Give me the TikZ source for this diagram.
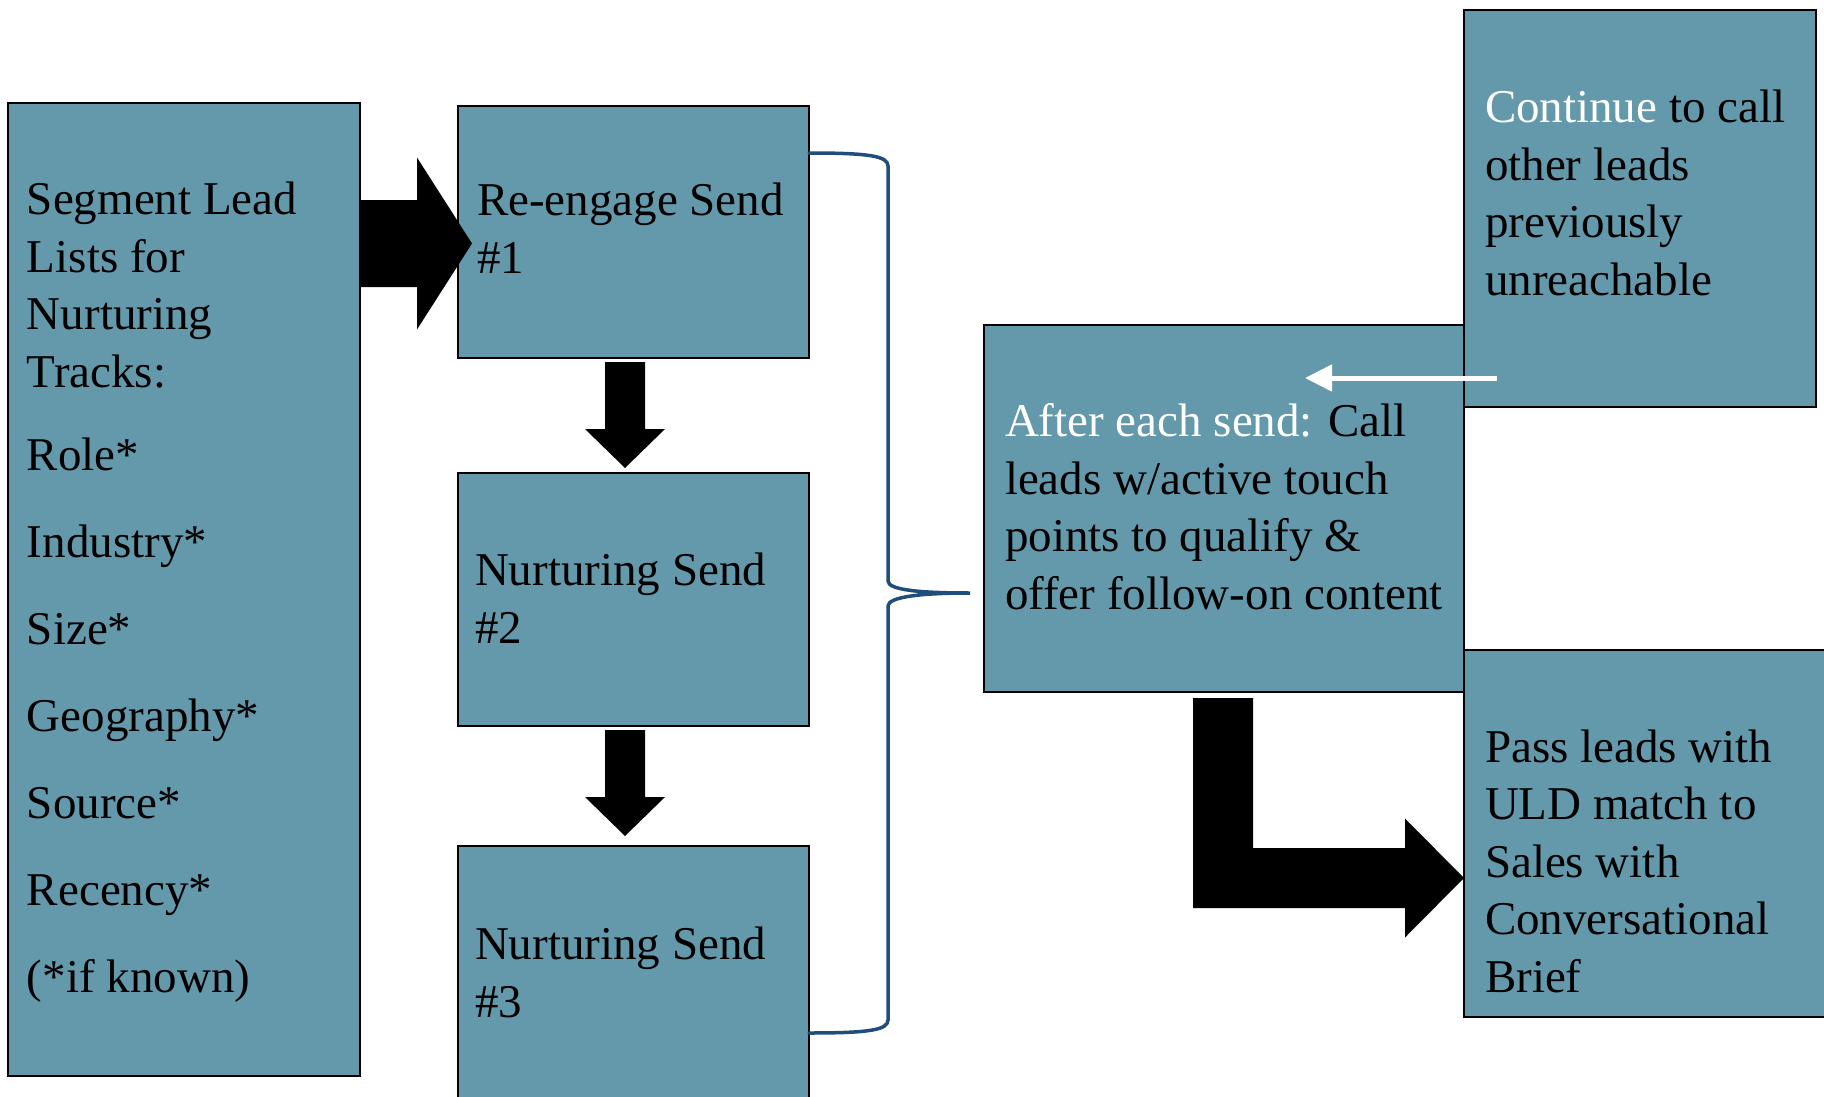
\documentclass[tikz,border=0pt]{standalone}
\usepackage{fontspec}
\setmainfont{Liberation Serif}
\usetikzlibrary{arrows.meta,calc}
\definecolor{boxfill}{RGB}{99,153,171}
\definecolor{bracecol}{RGB}{31,78,125}
\tikzset{
  panel/.style={draw=black, line width=2pt, fill=boxfill, inner sep=0pt,
    outer sep=0pt, anchor=north west},
  % text blocks are placed by the baseline of their last line
  txt/.style={anchor=base west, align=left, inner sep=0pt, outer sep=0pt,
    font=\fontsize{47}{57.5}\selectfont},
  fat/.style={fill=black},
  bracket/.style={draw=bracecol, line width=3.5pt, line cap=round},
  thin/.style={draw=white, line width=5pt,
    -{Triangle[length=27pt 0 0, width=26pt 0 0]}}
}
\begin{document}
\begin{tikzpicture}[x=1pt, y=-1pt]
\useasboundingbox (0,0) rectangle (1824,1097);
\clip (0,0) rectangle (1824,1097);
\fill[white] (0,0) rectangle (1824,1097);

% left column and send boxes
\node[panel, minimum width=352pt, minimum height=973pt] (seg) at (8,103) {};
\node[panel, minimum width=351pt, minimum height=252pt] (reen) at (458,106) {};
\node[panel, minimum width=351pt, minimum height=253pt] (n2) at (458,473) {};
\node[panel, minimum width=351pt, minimum height=300pt] (n3) at (458,846) {};

\node[txt] (segtxt) at (27,992) {Segment Lead\\Lists for\\Nurturing\\Tracks:\\[25.5pt]
  Role*\\[29.5pt]Industry*\\[29.5pt]Size*\\[29.5pt]Geography*\\[29.5pt]
  Source*\\[29.5pt]Recency*\\[29.5pt](*if known)};
\node[txt] (reentxt) at (477,273) {Re-engage Send\\\#1};
\node[txt] (n2txt) at (475,643) {Nurturing Send\\\#2};
\node[txt] (n3txt) at (475,1017) {Nurturing Send\\\#3};

% block arrow from the lead lists to the first send
\coordinate (a1s) at ($(seg.east |- reen.west)+(0,11.5)$);
\coordinate (a1t) at ($(reen.west)+(14,11.5)$);
\fill[fat] ($(a1s)+(0,-43.5)$) -- ($(a1t)+(-55,-43.5)$) -- ($(a1t)+(-55,-86)$)
  -- (a1t) -- ($(a1t)+(-55,86)$) -- ($(a1t)+(-55,43.5)$) -- ($(a1s)+(0,43.5)$) -- cycle;

% block arrows between the sends
\coordinate (d1s) at ($(reen.south)+(-8.5,4)$);
\coordinate (d1t) at ($(n2.north)+(-8.5,-5)$);
\fill[fat] ($(d1s)+(-20,0)$) -- ($(d1t)+(-20,-39)$) -- ($(d1t)+(-40,-39)$) -- (d1t)
  -- ($(d1t)+(40,-39)$) -- ($(d1t)+(20,-39)$) -- ($(d1s)+(20,0)$) -- cycle;
\coordinate (d2s) at ($(n2.south)+(-8.5,4)$);
\coordinate (d2t) at ($(n3.north)+(-8.5,-10)$);
\fill[fat] ($(d2s)+(-20,0)$) -- ($(d2t)+(-20,-39)$) -- ($(d2t)+(-40,-39)$) -- (d2t)
  -- ($(d2t)+(40,-39)$) -- ($(d2t)+(20,-39)$) -- ($(d2s)+(20,0)$) -- cycle;

% right-hand boxes
\node[panel, minimum width=480pt, minimum height=367pt] (after) at (984,325) {};
\node[panel, minimum width=352pt, minimum height=397pt] (cont) at (1464,10) {};
\node[panel, minimum width=380pt, minimum height=367pt] (pass) at (1464,650) {};

\node[txt] (aftertxt) at (1005,609) {{\color{white}After each send:} Call\\
  leads w/active touch\\points to qualify \&\\offer follow-on content};
\node[txt] (conttxt) at (1485,295) {{\color{white}Continue} to call\\other leads\\
  previously\\unreachable};
\node[txt] (passtxt) at (1485,992) {Pass leads with\\ULD match to\\Sales with\\
  Conversational\\Brief};

% curly bracket gathering the three sends
\coordinate (bt) at ($(reen.north east)+(0,47)$);
\coordinate (bb) at ($(n3.north east)+(0,187)$);
\coordinate (bk) at ($(after.west)+(-14,84.5)$);
\coordinate (v1) at ($(bt)+(79,13)$);
\coordinate (v2) at ($(bk)+(-82,-12)$);
\coordinate (v3) at ($(bk)+(-82,13)$);
\coordinate (v4) at ($(bb)+(79,-13)$);
\draw[bracket] (bt) .. controls ($(bt)+(60,0)$) and ($(v1)+(0,-10)$) .. (v1) -- (v2)
  .. controls ($(v2)+(0,9)$) and ($(bk)+(-50,0)$) .. (bk)
  .. controls ($(bk)+(-50,0)$) and ($(v3)+(0,-9)$) .. (v3) -- (v4)
  .. controls ($(v4)+(0,10)$) and ($(bb)+(60,0)$) .. (bb);

% white arrow back into the call step
\coordinate (wa) at ($(cont.south west)+(33,-29)$);
\coordinate (wb) at ($(wa)+(-192,0)$);
\draw[thin] (wa) -- (wb);

% bent block arrow to the hand-off box
\coordinate (ls) at ($(after.south)+(-1,6)$);
\coordinate (lt) at ($(pass.west)+(0,44.5)$);
\coordinate (lc) at (ls |- lt);
\fill[fat] ($(ls)+(-30,0)$) -- ($(lc)+(-30,30)$) -- ($(lt)+(-59,30)$) -- ($(lt)+(-59,59.5)$)
  -- (lt) -- ($(lt)+(-59,-59.5)$) -- ($(lt)+(-59,-30)$) -- ($(lc)+(30,-30)$)
  -- ($(ls)+(30,0)$) -- cycle;
\end{tikzpicture}
\end{document}
